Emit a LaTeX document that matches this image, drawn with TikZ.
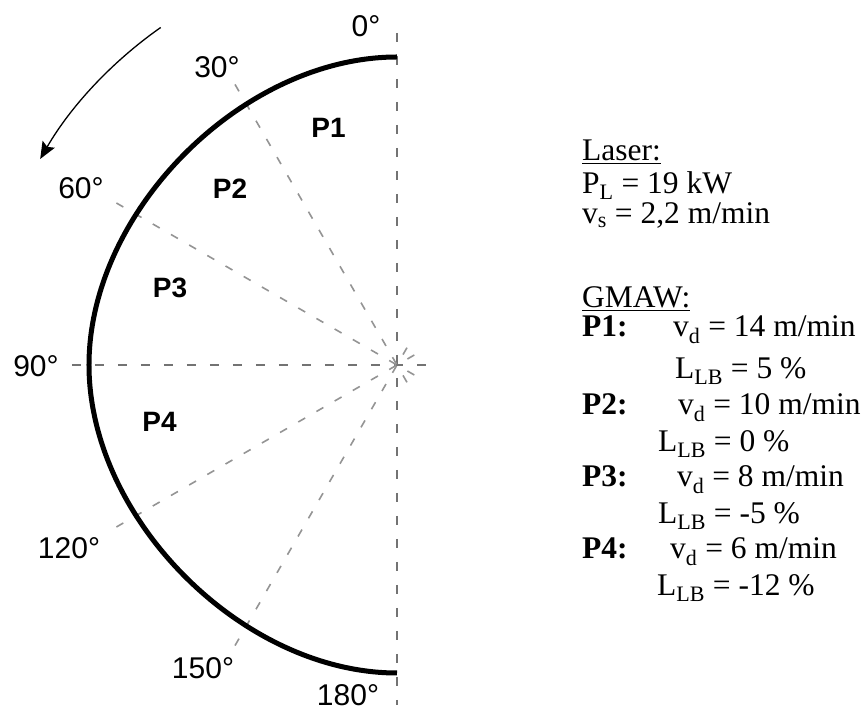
\documentclass[tikz,border=0pt]{standalone}
\usepackage{fontspec}
\setmainfont{Liberation Serif}
\newfontfamily\arialfont{Liberation Sans}
\usepackage{tikz}
\usetikzlibrary{calc,arrows.meta}

\begin{document}
\begin{tikzpicture}[x=1pt,y=1pt,
		deglabel/.style={font=\arialfont\fontsize{30}{36}\selectfont,inner sep=0pt},
		plabel/.style={font=\arialfont\bfseries\fontsize{28}{34}\selectfont,inner sep=0pt},
		txt/.style={font=\fontsize{31.5}{37}\selectfont,inner sep=0pt,anchor=base west},
		axisline/.style={black!55,line width=1.8pt,dash pattern=on 9pt off 14pt},
		rayline/.style={black!42,line width=1.6pt,dash pattern=on 8pt off 13pt}]
				\useasboundingbox (-397,-346) rectangle (465,365);
				\coordinate (O) at (0,0);
				% the two axes through the centre of the pipe
				\draw[axisline] (0,332) -- (0,-340);
				\draw[axisline] (-325,0) -- (40,0);
				% the rays every 30 degrees
				\foreach \a in {120,150,210,240}
					\draw[rayline] ($(O)+(\a:-20)$) -- ($(O)+(\a:330)$);
				% the seam round the pipe
				\draw[line width=5pt] (0,308) .. controls (-154,308) and (-308,154) .. (-308,0)
					.. controls (-308,-154) and (-154,-308) .. (0,-308);
				% welding direction
				\draw[line width=1.3pt,-{Stealth[length=17pt,width=14pt,inset=3pt]}]
					($(O)+(125:412)$) arc[start angle=125,end angle=150,radius=412pt];
				% angle labels
				\foreach \t/\x/\y in {0/-31/339,30/-180/298,60/-316/177,90/-361/-1,120/-328/-183,150/-194/-303,180/-49/-330}
					\node[deglabel] (d\t) at (\x,\y) {\t°};
				% positions
				\foreach \p/\x/\y in {1/-68.5/237.5,2/-167/176.5,3/-227/77.5,4/-237.5/-57}
					\node[plabel] (p\p) at (\x,\y) {P\p};
				% parameters
				\node[txt] (laser) at (185,204) {\underline{Laser:}};
				\node[txt] (pl) at (185,171) {P\textsubscript{L} = 19 kW};
				\node[txt] (vs) at (185,141) {v\textsubscript{s} = 2,2 m/min};
				\node[txt] (gmaw) at (185,57) {\underline{GMAW:}};
				\foreach \n/\yp/\vx/\vd/\yl/\lx/\ll in {1/28/276/14/-14/278/5,2/-50/281/10/-87/261/0,3/-122/280/8/-159/261/-5,4/-194/273/6/-231/260/-12}{
					\node[txt] (q\n) at (185,\yp) {\textbf{P\n:}};
					\node[txt] (v\n) at (\vx,\yp) {v\textsubscript{d} = \vd{} m/min};
					\node[txt] (l\n) at (\lx,\yl) {L\textsubscript{LB} = \ll{} \%};
				}
			\end{tikzpicture}
\end{document}
